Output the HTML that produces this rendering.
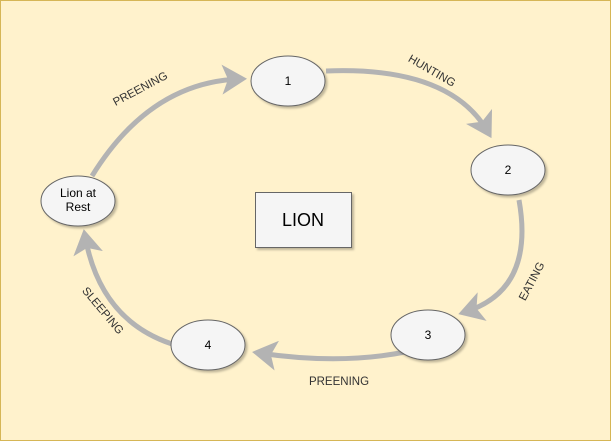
<!DOCTYPE html>
<html><head><style>
body{margin:0;background:#fff;}
svg{display:block;font-family:"Liberation Sans",sans-serif;}
</style></head><body>
<svg width="611" height="441" viewBox="0 0 611 441">
<defs>
<marker id="a" markerWidth="6" markerHeight="6" refX="3.6" refY="3" orient="auto" markerUnits="strokeWidth">
<path d="M0,0 L5,3 L0,6 L1.2,3 Z" fill="#b3b3b3"/>
</marker>
<filter id="s"><feDropShadow dx="2" dy="2" stdDeviation="1" flood-color="#000" flood-opacity="0.25"/></filter>
</defs>
<rect x="0.5" y="0.5" width="610" height="440" fill="#fff2cc" stroke="#d6b656"/>
<g fill="none" stroke="#b3b3b3" stroke-width="5" marker-end="url(#a)">
<path d="M92,176 Q150,82 240,79"/>
<path d="M326,71 Q450,66 488,132"/>
<path d="M519,200 Q535,290 465,312"/>
<path d="M405,352 Q340,365 259,353"/>
<path d="M172,344 Q100,320 85,236"/>
</g>
<g fill="#f5f5f5" stroke="#666" filter="url(#s)">
<ellipse cx="288" cy="81" rx="37" ry="25"/>
<ellipse cx="508" cy="170" rx="37" ry="25"/>
<ellipse cx="428" cy="335" rx="37" ry="25"/>
<ellipse cx="208" cy="345" rx="37" ry="25"/>
<ellipse cx="78" cy="201" rx="37" ry="25"/>
<rect x="255.5" y="192.5" width="96" height="55"/>
</g>
<g font-size="12" text-anchor="middle" fill="#000">
<text x="288" y="85">1</text>
<text x="508" y="174">2</text>
<text x="428" y="339">3</text>
<text x="208" y="349">4</text>
<text x="78" y="197">Lion at</text>
<text x="78" y="211">Rest</text>
<text x="303" y="226" font-size="18">LION</text>
</g>
<g font-size="11.5" text-anchor="middle" fill="#333">
<text transform="translate(142,92) rotate(-28)">PREENING</text>
<text transform="translate(430,74) rotate(30)">HUNTING</text>
<text transform="translate(535,283) rotate(-62)">EATING</text>
<text x="339" y="385">PREENING</text>
<text transform="translate(100,313) rotate(50)">SLEEPING</text>
</g>
</svg>
</body></html>
